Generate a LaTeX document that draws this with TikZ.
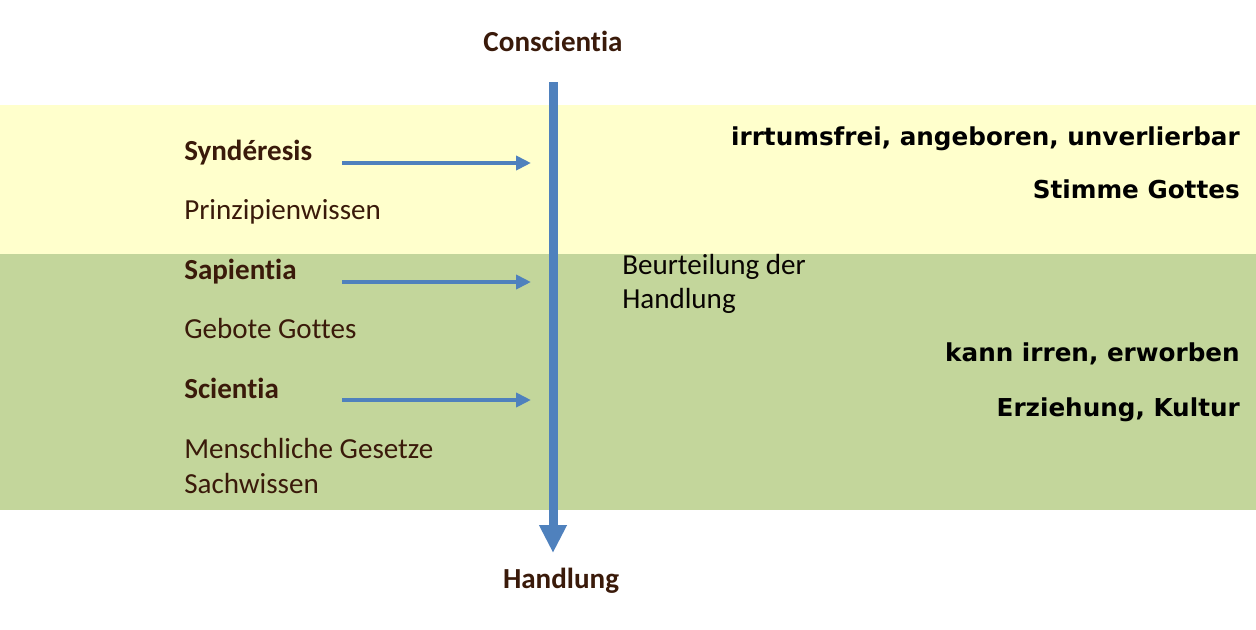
\documentclass[tikz,border=0pt]{standalone}
\usepackage{fontspec}
\setmainfont{Carlito}[RawFeature={-liga}]
\newfontfamily\verd{DejaVu Sans}
\usetikzlibrary{arrows.meta}
\definecolor{bandyellow}{HTML}{FFFFCC}
\definecolor{bandgreen}{HTML}{C3D69B}
\definecolor{arrowblue}{HTML}{4F81BD}
\definecolor{txtbrown}{HTML}{3A1A0A}
\tikzset{
  lefttxt/.style={anchor=base west, inner sep=0pt, text=txtbrown, font=\fontsize{21.8}{26}\selectfont},
  leftbold/.style={lefttxt, font=\fontsize{21.8}{26}\selectfont\bfseries},
  righttxt/.style={anchor=base east, inner sep=0pt, text=black, font=\verd\fontsize{18.5}{22}\selectfont\bfseries},
  titletxt/.style={anchor=base, inner sep=0pt, text=txtbrown, font=\fontsize{21.8}{26}\selectfont\bfseries},
  mainarrow/.style={draw=arrowblue, line width=6.75pt, -{Triangle[length=21pt,width=19.5pt]}},
  sidearrow/.style={draw=arrowblue, line width=3pt, -{Triangle[length=11.25pt,width=10.5pt]}}
}
\begin{document}
\begin{tikzpicture}[x=0.75pt,y=-0.75pt]
\useasboundingbox (0,0) rectangle (1256,629);
\fill[white] (0,0) rectangle (1256,629);
\fill[bandyellow] (0,105) rectangle (1256,254);
\fill[bandgreen] (0,254) rectangle (1256,510);

\coordinate (top) at (553,82);
\coordinate (bot) at (553,553);
\draw[mainarrow] (top) -- (bot);

\coordinate (a1s) at (342,163); \coordinate (a1e) at (531,163);
\coordinate (a2s) at (342,282); \coordinate (a2e) at (531,282);
\coordinate (a3s) at (342,400); \coordinate (a3e) at (531,400);
\draw[sidearrow] (a1s) -- (a1e);
\draw[sidearrow] (a2s) -- (a2e);
\draw[sidearrow] (a3s) -- (a3e);

\node[titletxt] (consc) at (553,51) {Conscientia};
\node[titletxt] (handl) at (561,588) {Handlung};

\node[leftbold] (synd) at (184,160) {Syndéresis};
\node[lefttxt] (prinz) at (184,219) {Prinzipienwissen};
\node[leftbold] (sap) at (184,279) {Sapientia};
\node[lefttxt] (gebote) at (184,338) {Gebote Gottes};
\node[leftbold] (sci) at (184,398) {Scientia};
\node[lefttxt] (mensch) at (184,458) {Menschliche Gesetze};
\node[lefttxt] (sach) at (184,493) {Sachwissen};

\node[lefttxt, text=black!85!txtbrown] (beurt1) at (622,274) {Beurteilung der};
\node[lefttxt, text=black!85!txtbrown] (beurt2) at (622,308) {Handlung};

\node[righttxt] (r1) at (1240,145) {irrtumsfrei, angeboren, unverlierbar};
\node[righttxt] (r2) at (1240,198) {Stimme Gottes};
\node[righttxt] (r3) at (1240,361) {kann irren, erworben};
\node[righttxt] (r4) at (1240,416) {Erziehung, Kultur};
\end{tikzpicture}
\end{document}
